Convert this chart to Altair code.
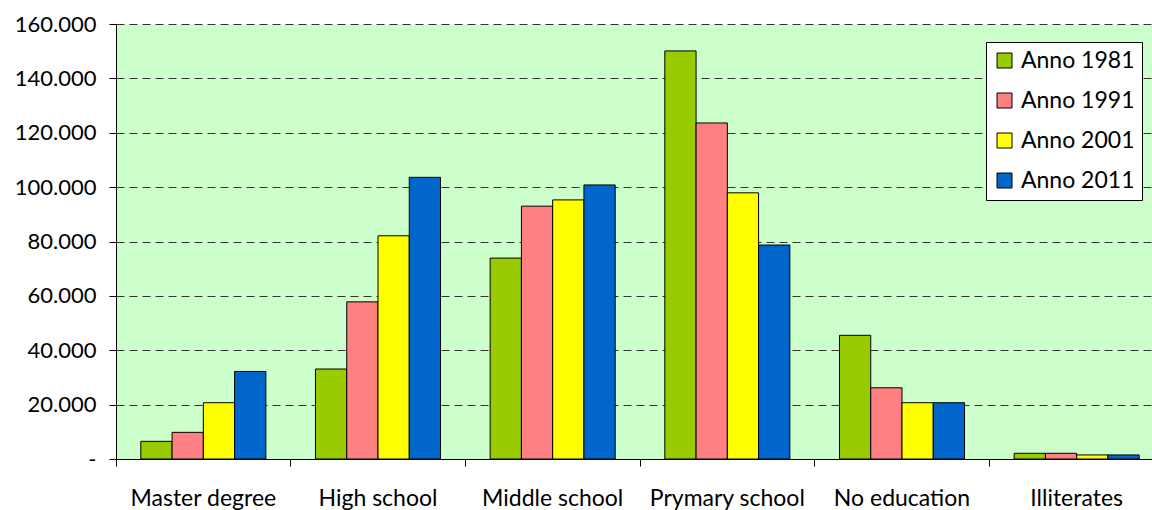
import altair as alt
import pandas as pd

categories = ["Master degree", "High school", "Middle school", "Prymary school", "No education", "Illiterates"]
years = ["Anno 1981", "Anno 1991", "Anno 2001", "Anno 2011"]
v1981 = [6500, 33100, 73900, 150100, 45500, 2100]
v1991 = [9800, 57800, 93000, 123600, 26200, 2100]
v2001 = [20700, 82100, 95300, 97900, 20700, 1500]
v2011 = [32200, 103600, 100800, 78700, 20700, 1500]
colors = ["#99CC00", "#FF8080", "#FFFF00", "#0066CC"]
y_ticks = [0, 20000, 40000, 60000, 80000, 100000, 120000, 140000, 160000]

rows = []
for year, vals in zip(years, [v1981, v1991, v2001, v2011]):
    for cat, v in zip(categories, vals):
        rows.append({"category": cat, "year": year, "value": v})
df = pd.DataFrame(rows)

FONT = "Lato"

chart = alt.Chart(df).mark_bar(stroke="black", strokeWidth=1).encode(
    x=alt.X(
        "category:N",
        sort=categories,
        scale=alt.Scale(range=[0, 1048], paddingInner=0, paddingOuter=0),
        axis=alt.Axis(
            title=None, labelAngle=0, bandPosition=0,
            tickSize=7, tickColor="black", domainColor="black",
            labelFont=FONT, labelFontSize=23, labelColor="black",
            labelPadding=21, labelBaseline="top", grid=False,
        ),
    ),
    xOffset=alt.XOffset("year:N", sort=years, scale=alt.Scale(paddingInner=0, paddingOuter=0.794)),
    y=alt.Y(
        "value:Q",
        scale=alt.Scale(domain=[0, 160000]),
        axis=alt.Axis(
            title=None, values=y_ticks,
            labelExpr="datum.value == 0 ? '-' : replace(format(datum.value, ',.0f'), ',', '.')",
            tickSize=7, tickColor="black", domainColor="black",
            labelFont=FONT, labelFontSize=22, labelColor="black", labelPadding=13,
            grid=True, gridDash=[8, 5], gridColor="#333333", gridWidth=1,
        ),
    ),
    color=alt.Color(
        "year:N", sort=years,
        scale=alt.Scale(domain=years, range=colors),
        legend=alt.Legend(
            title=None, orient="none", legendX=870, legendY=18,
            symbolType="square", symbolSize=225, symbolStrokeColor="black",
            symbolStrokeWidth=1, symbolOpacity=1,
            labelFont=FONT, labelFontSize=23, labelColor="black", labelOffset=5,
            rowPadding=16, padding=7, fillColor="white",
            strokeColor="black",
        ),
    ),
).properties(
    width=1036, height=435,
    padding={"left": 116, "top": 24, "right": 0, "bottom": 51},
    autosize=alt.AutoSizeParams(type="none"),
    background="white",
).configure_view(fill="#CCFFCC", stroke="transparent").configure_legend(strokeWidth=1)

chart.save("out.html", embed_options={"renderer": "svg", "actions": False})
